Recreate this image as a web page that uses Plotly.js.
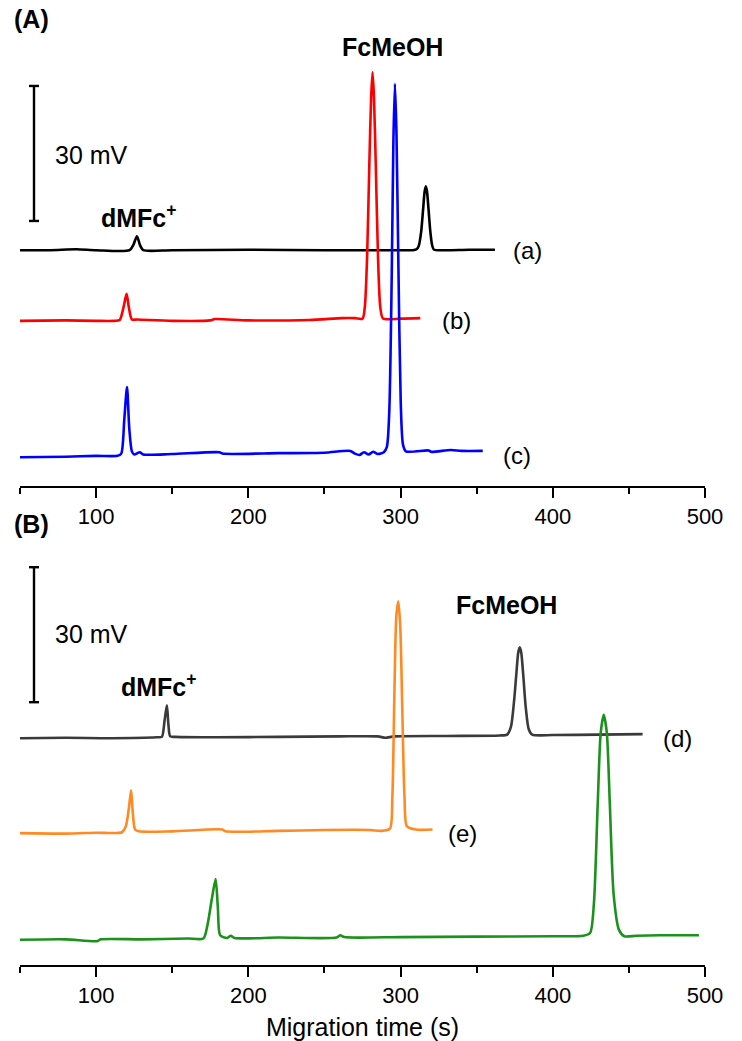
<!DOCTYPE html>
<html>
<head>
<meta charset="utf-8">
<script src="https://cdn.plot.ly/plotly-3.0.1.min.js"></script>
<style>html,body{margin:0;padding:0;background:#fff;}#chart{width:742px;height:1041px;}</style>
</head>
<body>
<div id="chart"></div>
<script>
// ---------- data (migration time in s, signal in mV relative to each trace's baseline) ----------
const traceNames = ["(a)", "(b)", "(c)", "(d)", "(e)", "(f)"];
const peakLabelDMFc = "dMFc<sup>+</sup>";
const peakLabelFc = "FcMeOH";
const scaleBarMV = 30;
const xTickLabels = ["100", "200", "300", "400", "500"];
const xTickValues = [100, 200, 300, 400, 500];
const xAxisTitle = "Migration time (s)";

// Panel (A)
const tA = [50, 70, 87, 100, 122, 124.5, 126.8, 129, 131, 150, 200, 250, 300, 308, 310.5, 312, 313.5, 314.8, 315.8, 316.6, 317.4, 318.4, 319.6, 320.8, 322, 330, 345, 362];
const vA = [0, 0, 0.2, 0, 0, 1.2, 3.1, 1.0, 0, 0, 0.1, 0, 0, 0, 0.2, 1, 4, 9, 13, 14.2, 13, 9, 4, 1, 0.1, 0, 0.1, 0.1];

const tB = [50, 80, 100, 112, 115.5, 118, 120, 121.5, 123.5, 127, 150, 175, 178, 200, 240, 262, 270, 275, 276.5, 278, 279.5, 280.7, 281.6, 282.5, 283.7, 285.2, 286.7, 288.5, 300, 313];
const vB = [0, 0.1, 0, 0, 0.2, 3, 6, 3, 0.3, 0.3, 0, 0.1, 0.4, 0.1, 0.2, 0.6, 0.6, 0.5, 3, 14, 35, 50, 55.3, 50, 35, 14, 3, 0.5, 0.5, 0.6];

const tC = [50, 80, 100, 114, 116.5, 118.5, 120.3, 121.8, 123.5, 125, 128.7, 131, 150, 181, 183, 220, 250, 267, 270, 273, 276, 279, 282, 285, 289, 291, 292.6, 294.2, 295.3, 296.3, 297.3, 298.6, 300.1, 301.6, 303.5, 318.5, 320, 333, 340, 354];
const vC = [-0.3, -0.2, 0, 0, 0.5, 8, 15.3, 6, 1, 0.3, 0.8, 0.3, 0.4, 0.8, 0.5, 0.6, 0.7, 1.1, 0.5, 0.2, 0.8, 0.3, 0.9, 0.4, 0.8, 2, 10, 40, 70, 82.7, 72, 42, 12, 2.5, 1, 1.2, 0.9, 1.3, 1.1, 1.1];

// Panel (B)
const tD = [50, 80, 110, 140, 143.2, 145, 146.5, 147.5, 148.7, 152, 180, 220, 260, 285, 290, 296, 330, 365, 370, 372.5, 374.5, 376, 377.3, 378.3, 379.3, 380.6, 382.2, 384.2, 386.5, 400, 430, 459];
const vD = [0, 0.1, 0, 0.2, 0.3, 4, 7.3, 3, 0.4, 0.3, 0.2, 0.3, 0.4, 0.4, 0.1, 0.4, 0.5, 0.6, 0.8, 2.5, 8, 14, 19, 20.2, 19, 14, 7, 2, 0.8, 0.7, 0.8, 0.9];

const tE = [50, 80, 100, 117, 119.5, 121.5, 123, 124, 125.6, 128, 150, 183, 185, 220, 250, 280, 287, 293, 294.6, 295.9, 297.2, 298.5, 299.8, 301.1, 302.6, 304.2, 310, 321];
const vE = [0, -0.1, 0.1, 0.2, 1.5, 5.5, 9.5, 5, 0.8, 0.4, 0.4, 0.8, 0.4, 0.5, 0.7, 0.7, 0.5, 1, 8, 30, 48, 51.5, 46, 28, 8, 1.5, 0.8, 0.8];

const tF = [50, 80, 100.7, 103, 130, 160, 170.5, 173, 176, 178.5, 180, 181.5, 186, 188.5, 191, 220, 258, 260.4, 263, 300, 350, 400, 420, 424.5, 427, 429.5, 431.5, 433.5, 435.5, 437.5, 440, 443.5, 447, 455, 470, 496];
const vF = [0, 0.1, -0.3, 0.1, 0.1, 0.3, 0.3, 3, 9, 13.5, 7, 1, 0.4, 0.9, 0.4, 0.5, 0.5, 1, 0.6, 0.6, 0.7, 0.8, 0.9, 1.5, 8, 30, 46, 50, 46, 30, 10, 2.2, 0.8, 0.9, 1, 1];

// vertical stacking offsets (mV) of each trace's baseline
const offsetsA = [52.4, 36.7, 6.7];
const offsetsB = [50.4, 29.3, 5.6];
const scaleBarBottom = [58.9, 58.4];

// ---------- styling ----------
const colors = ["#000000", "#ff0000", "#0000ff", "#3a3a3a", "#ff8a24", "#1c921c"];
const FONT = "Liberation Sans, Arial, Helvetica, sans-serif";

function shift(arr, off) { return arr.map(v => v + off); }

const seriesA = [[tA, vA], [tB, vB], [tC, vC]];
const seriesB = [[tD, vD], [tE, vE], [tF, vF]];

const traces = [];
seriesA.forEach((s, i) => traces.push({
  x: s[0], y: shift(s[1], offsetsA[i]), type: "scatter", mode: "lines",
  line: {color: colors[i], width: 2.6, shape: "spline", smoothing: 0.7}, xaxis: "x", yaxis: "y", hoverinfo: "skip", showlegend: false
}));
seriesB.forEach((s, i) => traces.push({
  x: s[0], y: shift(s[1], offsetsB[i]), type: "scatter", mode: "lines",
  line: {color: colors[i + 3], width: 2.6, shape: "spline", smoothing: 0.7}, xaxis: "x2", yaxis: "y2", hoverinfo: "skip", showlegend: false
}));

const xCommon = {
  range: [50, 500], tickvals: xTickValues, ticktext: xTickLabels,
  ticks: "outside", ticklen: 10, tickwidth: 2, tickcolor: "#000",
  showline: true, linewidth: 2, linecolor: "#000", showgrid: false, zeroline: false,
  minor: {tickvals: [50, 150, 250, 350, 450], ticks: "outside", ticklen: 6, tickwidth: 2, tickcolor: "#000", showgrid: false},
  tickfont: {family: FONT, size: 22, color: "#000"}, fixedrange: true
};

const scaleX = 59.2, capHalf = 3.3;
const shapes = [];
[["x", "y", scaleBarBottom[0]], ["x2", "y2", scaleBarBottom[1]]].forEach(([xr, yr, b]) => {
  const line = {color: "#000", width: 2.4};
  shapes.push({type: "line", xref: xr, yref: yr, x0: scaleX, x1: scaleX, y0: b, y1: b + scaleBarMV, line});
  shapes.push({type: "line", xref: xr, yref: yr, x0: scaleX - capHalf, x1: scaleX + capHalf, y0: b, y1: b, line});
  shapes.push({type: "line", xref: xr, yref: yr, x0: scaleX - capHalf, x1: scaleX + capHalf, y0: b + scaleBarMV, y1: b + scaleBarMV, line});
});

function ann(text, x, y, xr, yr, opts) {
  return Object.assign({text, x, y, xref: xr, yref: yr, showarrow: false,
    font: {family: FONT, size: 24, color: "#000"}, xanchor: "left", yanchor: "middle"}, opts || {});
}
const boldFont = {family: FONT, size: 25, color: "#000", weight: "bold"};

// paper y for (A)/(B) from pixel rows of the plot area (top 0, bottom 965)
const plotBottom = 965;
const annotations = [
  ann(traceNames[0], 372.8, offsetsA[0], "x", "y"),
  ann(traceNames[1], 325.7, offsetsA[1], "x", "y"),
  ann(traceNames[2], 365.8, offsetsA[2], "x", "y"),
  ann(traceNames[3], 471, offsetsB[0], "x2", "y2"),
  ann(traceNames[4], 329.6, offsetsB[1], "x2", "y2"),
  ann(traceNames[5], 502, offsetsB[2], "x2", "y2"),
  ann("<b>" + peakLabelDMFc + "</b>", 128.3, 60, "x", "y", {xanchor: "center", font: boldFont}),
  ann("<b>" + peakLabelDMFc + "</b>", 141.4, 62.2, "x2", "y2", {xanchor: "center", font: boldFont}),
  ann("<b>" + peakLabelFc + "</b>", 294.5, 97.5, "x", "y", {xanchor: "center", font: boldFont}),
  ann("<b>" + peakLabelFc + "</b>", 369.7, 80, "x2", "y2", {xanchor: "center", font: boldFont}),
  ann(scaleBarMV + " mV", 72, 73.6, "x", "y", {font: {family: FONT, size: 25, color: "#000"}}),
  ann(scaleBarMV + " mV", 72, 73.6, "x2", "y2", {font: {family: FONT, size: 25, color: "#000"}}),
  ann("<b>(A)</b>", -0.012, (plotBottom - 19) / plotBottom, "paper", "paper", {font: boldFont}),
  ann("<b>(B)</b>", -0.012, (plotBottom - 524) / plotBottom, "paper", "paper", {font: boldFont})
];

const layout = {
  width: 742, height: 1041,
  margin: {l: 20, r: 37, t: 0, b: 76},
  paper_bgcolor: "#fff", plot_bgcolor: "#fff",
  showlegend: false,
  xaxis: Object.assign({}, xCommon, {anchor: "y"}),
  yaxis: {domain: [(965 - 486) / 965, 1], range: [0, 108], visible: false, fixedrange: true},
  xaxis2: Object.assign({}, xCommon, {anchor: "y2",
    title: {text: xAxisTitle, font: {family: FONT, size: 25, color: "#000"}, standoff: 12}}),
  yaxis2: {domain: [0, (965 - 530) / 965], range: [0, 435 / 4.5], visible: false, fixedrange: true},
  shapes, annotations
};

Plotly.newPlot("chart", traces, layout, {displayModeBar: false, staticPlot: true});
</script>
</body>
</html>
